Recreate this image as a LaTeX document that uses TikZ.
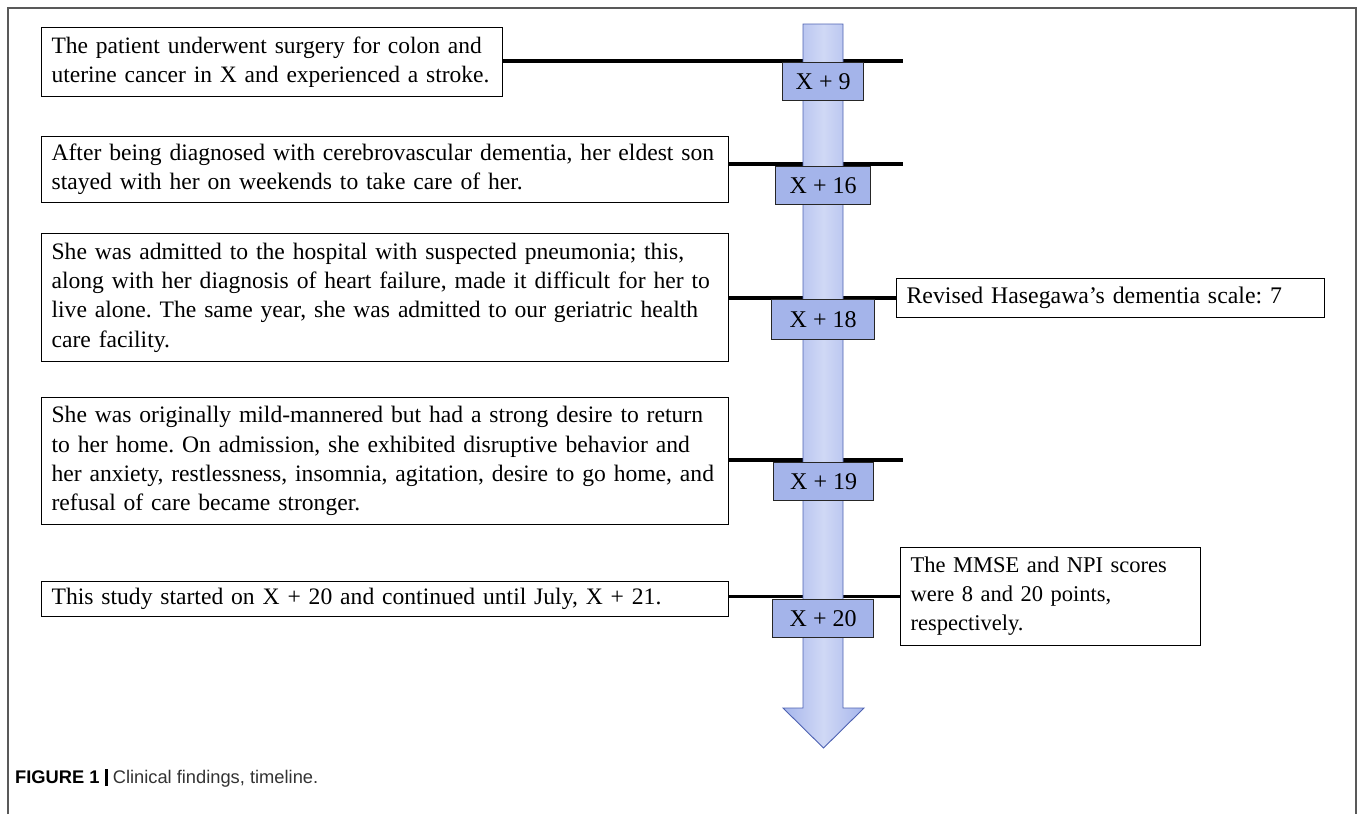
\documentclass[tikz,border=0pt]{standalone}
\usepackage{fontspec}
\setmainfont{Liberation Serif}
\newfontfamily\capfont{Liberation Sans}
\definecolor{yearblue}{RGB}{164,180,234}
\definecolor{arrowedge}{RGB}{166,182,236}
\definecolor{arrowmid}{RGB}{208,216,245}
\definecolor{arrowline}{RGB}{78,98,178}
\newcommand{\oneline}[1]{\mbox{#1}}
\frenchspacing
\hbadness=10000
\hfuzz=100pt
\begin{document}
\begin{tikzpicture}[x=1pt,y=-1pt,
  txtbox/.style={draw=black, line width=1.2pt, fill=white, anchor=north west,
    inner xsep=10pt, inner ysep=0pt, align=left,
    font=\fontsize{23.6}{29.2}\selectfont},
  yearbox/.style={draw=black!85, line width=1.2pt, fill=yearblue, anchor=north west,
    inner sep=0pt, font=\fontsize{24}{29.5}\selectfont},
  tline/.style={line width=3.5pt, black},
  framel/.style={line width=1.3pt, black!65}]
\useasboundingbox (0,0) rectangle (1362,814);
% frame
\draw[framel] (8,814) -- (8,8) -- (1356,8) -- (1356,814);

% text boxes
\node[txtbox, minimum width=461pt, minimum height=69pt, text width=441pt,
  font=\fontsize{23.5}{29.2}\selectfont] (b1) at (41,27)
  {\oneline{The patient underwent surgery for colon and}\\\oneline{uterine cancer in X and experienced a stroke.}};
\node[txtbox, minimum width=687pt, minimum height=66pt, text width=667pt] (b2) at (41,136)
  {\oneline{After being diagnosed with cerebrovascular dementia, her eldest son}\\\oneline{stayed with her on weekends to take care of her.}};
\node[txtbox, minimum width=687pt, minimum height=128pt, text width=667pt] (b3) at (41,233)
  {\oneline{She was admitted to the hospital with suspected pneumonia; this,}\\\oneline{along with her diagnosis of heart failure, made it difficult for her to}\\\oneline{live alone. The same year, she was admitted to our geriatric health}\\\oneline{care facility.}};
\node[txtbox, minimum width=687pt, minimum height=127pt, text width=667pt] (b4) at (41,397)
  {\oneline{She was originally mild-mannered but had a strong desire to return}\\\oneline{to her home. On admission, she exhibited disruptive behavior and}\\\oneline{her anxiety, restlessness, insomnia, agitation, desire to go home, and}\\\oneline{refusal of care became stronger.}};
\node[txtbox, minimum width=687pt, minimum height=35pt, text width=667pt] (b5) at (41,581)
  {\oneline{This study started on X + 20 and continued until July, X + 21.}};
\node[txtbox, minimum width=428pt, minimum height=39pt, text width=408pt,
  font=\fontsize{23.8}{29.5}\selectfont] (rv) at (896,278)
  {\oneline{Revised Hasegawa’s dementia scale: 7}};
\node[txtbox, minimum width=300pt, minimum height=98pt, text width=280pt,
  font=\fontsize{22.5}{29}\selectfont] (mm) at (900,547)
  {\oneline{The MMSE and NPI scores}\\\oneline{were 8 and 20 points,}\\\oneline{respectively.}};

% free ends
\coordinate (e1) at (903,61);
\coordinate (e2) at (903,164);
\coordinate (e4) at (903,460);

% connector lines
\draw[tline] (b1.east |- e1) -- (e1);
\draw[tline] (b2.east |- e2) -- (e2);
\draw[tline] (b3.east |- rv.west) -- (rv.west);
\draw[tline] (b4.east |- e4) -- (e4);
\draw[tline] (mm.west -| b5.east) -- (mm.west);

% timeline arrow
\shadedraw[left color=arrowedge, right color=arrowedge, middle color=arrowmid,
  draw=arrowline, line width=0.9pt]
  (803,24) -- (843,24) -- (843,708) -- (864,708) -- (823.5,748) -- (783,708) -- (803,708) -- cycle;

% year boxes
\node[yearbox, minimum width=81pt, minimum height=38pt] (y9) at (782,62) {X + 9};
\node[yearbox, minimum width=95pt, minimum height=38pt] (y16) at (775,166) {X + 16};
\node[yearbox, minimum width=103pt, minimum height=40pt] (y18) at (771,299) {X + 18};
\node[yearbox, minimum width=100pt, minimum height=38pt] (y19) at (773,462) {X + 19};
\node[yearbox, minimum width=101pt, minimum height=38pt] (y20) at (772,599) {X + 20};

% caption
\node[anchor=west, inner sep=0pt, font=\capfont\fontsize{18.3}{21}\selectfont] (cap) at (15,778)
  {\textbf{FIGURE 1}\hspace{5pt}\rule[-3pt]{3.2pt}{17pt}\hspace{5pt}{\color{black!80}Clinical findings, timeline.}};
\end{tikzpicture}
\end{document}
